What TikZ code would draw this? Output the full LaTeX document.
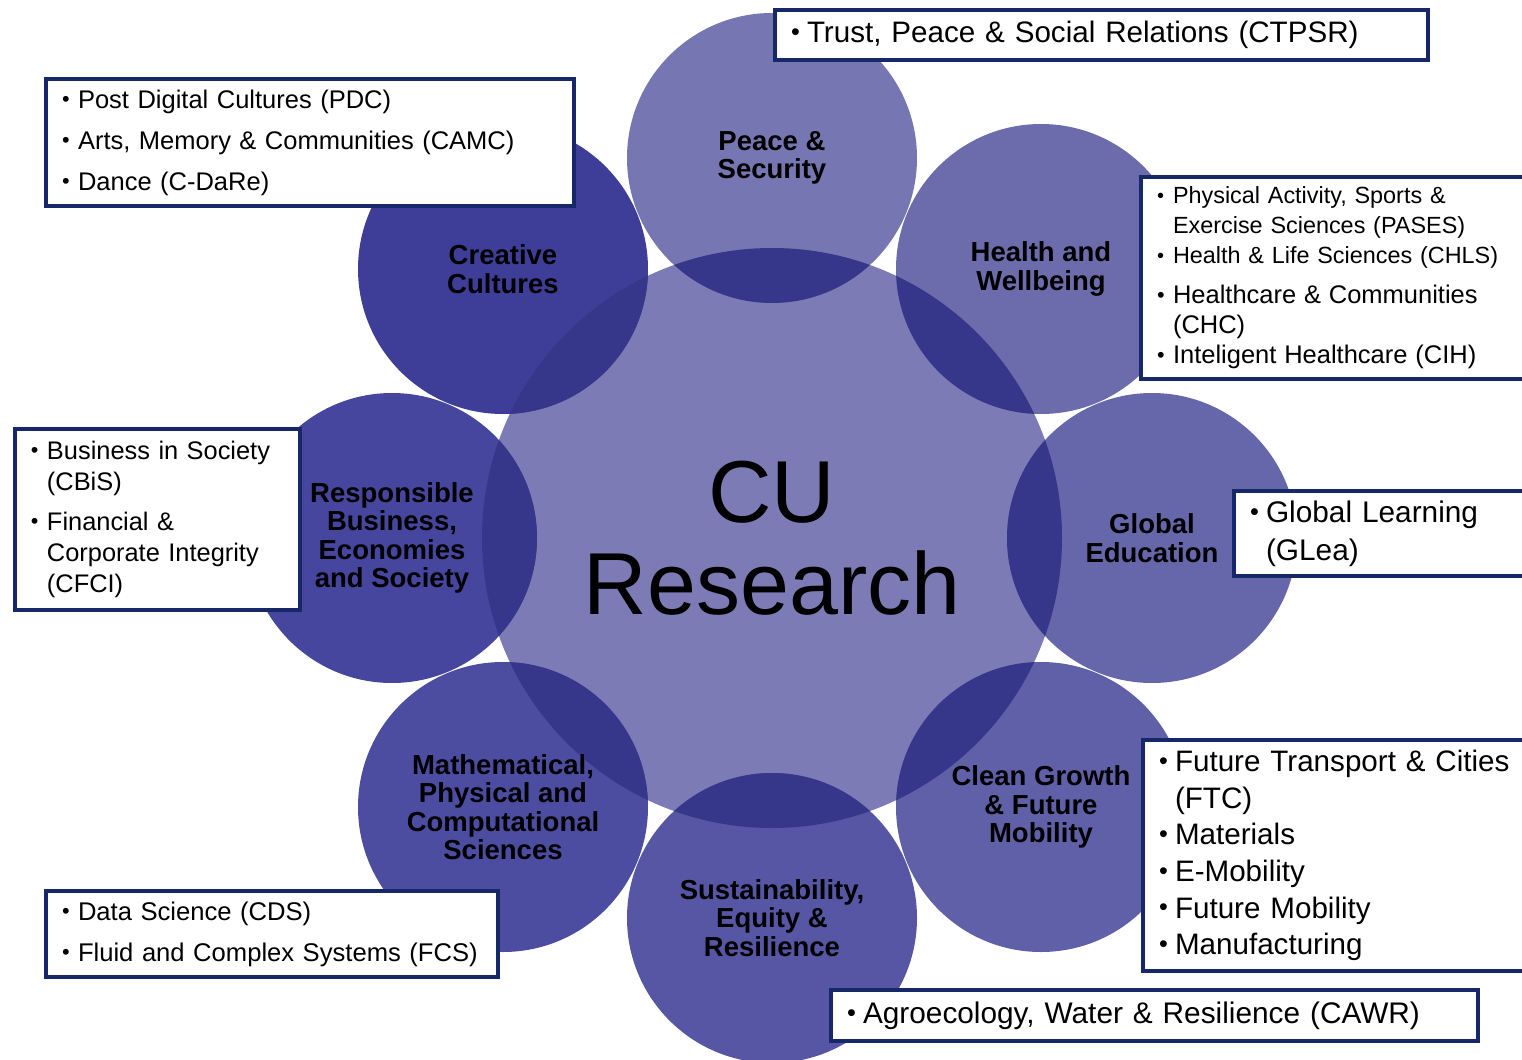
\documentclass[tikz,border=0pt]{standalone}
\usepackage{fontspec}
\setmainfont{Liberation Sans}

\definecolor{boxblue}{RGB}{22,40,104}
\definecolor{corefill}{RGB}{125,123,182}
\definecolor{overlapfill}{RGB}{54,54,138}
\definecolor{peacefill}{RGB}{118,118,178}
\definecolor{healthfill}{RGB}{108,108,172}
\definecolor{globalfill}{RGB}{102,102,170}
\definecolor{cleanfill}{RGB}{96,96,168}
\definecolor{sustainfill}{RGB}{86,86,164}
\definecolor{mathsfill}{RGB}{76,76,160}
\definecolor{businessfill}{RGB}{70,70,158}
\definecolor{creativefill}{RGB}{62,62,152}

\newcommand{\bul}{\makebox[8pt][l]{\raisebox{0.07em}{\scalebox{0.85}{\textbullet}}}}
\newcommand{\itemgap}{\hspace*{8pt}}

\tikzstyle{themecircle} = [circle, minimum size=145pt, inner sep=0pt, align=center, font=\bfseries\fontsize{13.75}{14.2}\selectfont]
\tikzstyle{corecircle}  = [circle, minimum size=290pt, inner sep=0pt, align=center, fill=corefill, font=\fontsize{44}{46}\selectfont]
\tikzstyle{infobox}     = [rectangle, draw=boxblue, line width=2pt, fill=white, inner xsep=8pt, inner ysep=0pt, align=left]

\begin{document}
\begin{tikzpicture}[x=0.5pt, y=-0.5pt]
    \useasboundingbox (0,0) rectangle (1522,1060);
    \clip (0,0) rectangle (1522,1060);
    % circles
    \node (core)     [corecircle]                      at (772,538) {CU\\Research};
    \node (peace)    [themecircle, fill=peacefill]     at (772,158) {Peace \&\\Security};
    \node (health)   [themecircle, fill=healthfill]    at (1041,269) {Health and\\Wellbeing};
    \node (global)   [themecircle, fill=globalfill]    at (1152,538) {Global\\Education};
    \node (clean)    [themecircle, fill=cleanfill]     at (1041,807) {Clean Growth\\\& Future\\Mobility};
    \node (sustain)  [themecircle, fill=sustainfill]   at (772,918) {Sustainability,\\Equity \&\\Resilience};
    \node (maths)    [themecircle, fill=mathsfill]     at (503,807) {Mathematical,\\Physical and\\Computational\\Sciences};
    \node (business) [themecircle, fill=businessfill]  at (392,538) {Responsible\\Business,\\Economies\\and Society};
    \node (creative) [themecircle, fill=creativefill]  at (503,269) {Creative\\Cultures};
    % overlaps with the core, darken keeps the labels black
    \begin{scope}[blend mode=darken]
        \clip (core.center) circle (290);
        \fill[overlapfill] (peace.center) circle (145) (health.center) circle (145)
                           (global.center) circle (145) (clean.center) circle (145)
                           (sustain.center) circle (145) (maths.center) circle (145)
                           (business.center) circle (145) (creative.center) circle (145);
    \end{scope}
    % centre boxes
    \node (ctpsr)   [infobox, text width=310.5pt, minimum height=25pt, font=\fontsize{14.8}{18}\selectfont] at (1101.5,35)
        {\bul Trust, Peace \& Social Relations (CTPSR)};
    \node (culture) [infobox, text width=248pt, minimum height=63.5pt, font=\fontsize{12.75}{20.5}\selectfont] at (310,142.5)
        {\bul Post Digital Cultures (PDC)\\
         \bul Arts, Memory \& Communities (CAMC)\\
         \bul Dance (C-DaRe)};
    \node (wellbox) [infobox, text width=182.5pt, minimum height=101pt, font=\fontsize{11.7}{15}\selectfont] at (1339.5,278)
        {\bul Physical Activity, Sports \&\\
         \itemgap Exercise Sciences (PASES)\\
         \bul Health \& Life Sciences (CHLS)\\[5pt]
         {\fontsize{12.75}{15}\selectfont\bul Healthcare \& Communities}\\
         {\fontsize{12.75}{15}\selectfont\itemgap (CHC)}\\
         {\fontsize{12.75}{15}\selectfont\bul Inteligent Healthcare (CIH)}};
    \node (bizbox)  [infobox, text width=126.5pt, minimum height=90.5pt, font=\fontsize{12.7}{15.5}\selectfont] at (157.5,519.5)
        {\bul Business in Society\\
         \itemgap (CBiS)\\[4.5pt]
         \bul Financial \&\\
         \itemgap Corporate Integrity\\
         \itemgap (CFCI)};
    \node (glea)    [infobox, text width=136pt, minimum height=42.5pt, font=\fontsize{14.9}{19}\selectfont] at (1386,533.5)
        {\bul Global Learning\\
         \itemgap (GLea)};
    \node (mobbox)  [infobox, text width=181.5pt, minimum height=115.5pt, font=\fontsize{14.8}{18.3}\selectfont] at (1340.5,855.5)
        {\bul Future Transport \& Cities\\
         \itemgap (FTC)\\
         \bul Materials\\
         \bul E-Mobility\\
         \bul Future Mobility\\
         \bul Manufacturing};
    \node (databox) [infobox, text width=210pt, minimum height=43pt, font=\fontsize{12.8}{20.5}\selectfont] at (272,934)
        {\bul Data Science (CDS)\\
         \bul Fluid and Complex Systems (FCS)};
    \node (cawr)    [infobox, text width=307.5pt, minimum height=25.5pt, font=\fontsize{14.9}{18}\selectfont] at (1154.5,1015.5)
        {\bul Agroecology, Water \& Resilience (CAWR)};
\end{tikzpicture}
\end{document}
